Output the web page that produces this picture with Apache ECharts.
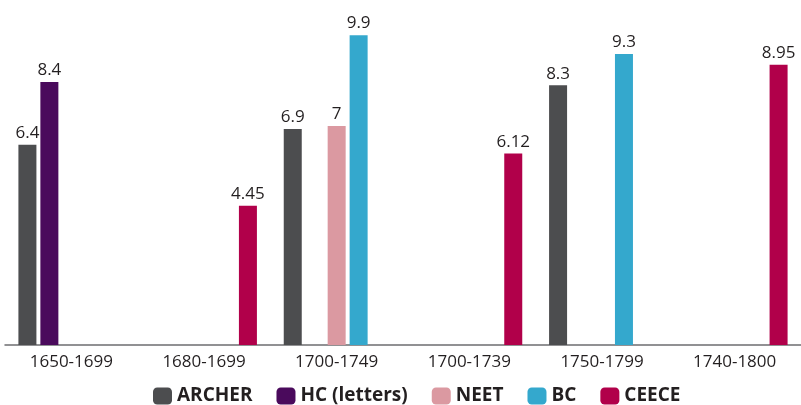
<!DOCTYPE html>
<html>
<head>
<meta charset="utf-8">
<script src="https://cdn.jsdelivr.net/npm/echarts@6/dist/echarts.min.js"></script>
<style>
  html, body { margin: 0; padding: 0; background: #ffffff; }
  #chart { width: 801px; height: 405px; }
</style>
</head>
<body>
<div id="chart"></div>
<script>
// Periods on the x axis
const periods = ['1650-1699', '1680-1699', '1700-1749', '1700-1739', '1750-1799', '1740-1800'];

// One value list per corpus (null where the corpus has no entry)
const archer = [6.4, null, 6.9, null, 8.3, null];
const hcLetters = [8.4, null, null, null, null, null];
const neet = [null, null, 7, null, null, null];
const bc = [null, null, 9.9, null, 9.3, null];
const ceece = [null, 4.45, null, 6.12, null, 8.95];

const seriesNames = ['ARCHER', 'HC (letters)', 'NEET', 'BC', 'CEECE'];
const seriesColors = ['#4c4d4f', '#4a0a5c', '#db99a1', '#34a8cd', '#b1004a'];
const seriesData = [archer, hcLetters, neet, bc, ceece];

const FONT = '"Open Sans", "Noto Sans", sans-serif';
const TEXT = '#231f20';

const chart = echarts.init(document.getElementById('chart'), null, { renderer: 'canvas' });

chart.setOption({
  animation: false,
  grid: { left: 5, right: -5, top: 32, bottom: 60, containLabel: false },
  legend: {
    data: seriesNames,
    left: 153,
    top: 386,
    padding: 0,
    itemWidth: 19,
    itemHeight: 17,
    itemGap: 24,
    icon: 'roundRect',
    textStyle: { fontFamily: FONT, fontSize: 19, fontWeight: 'bold', color: TEXT, lineHeight: 20 }
  },
  xAxis: {
    type: 'category',
    data: periods,
    axisTick: { show: false },
    axisLine: { lineStyle: { color: '#6d6e70', width: 1.5 } },
    axisLabel: { fontFamily: FONT, fontSize: 17, color: TEXT, margin: 9 }
  },
  yAxis: {
    type: 'value',
    min: 0,
    max: 10,
    show: false,
    splitLine: { show: false }
  },
  series: seriesNames.map((name, i) => ({
    name: name,
    type: 'bar',
    data: seriesData[i],
    barWidth: 18,
    barGap: '22%',
    itemStyle: { color: seriesColors[i] },
    label: {
      show: true,
      position: 'top',
      distance: 3,
      fontFamily: FONT,
      fontSize: 17,
      color: TEXT
    }
  }))
});
</script>
</body>
</html>
